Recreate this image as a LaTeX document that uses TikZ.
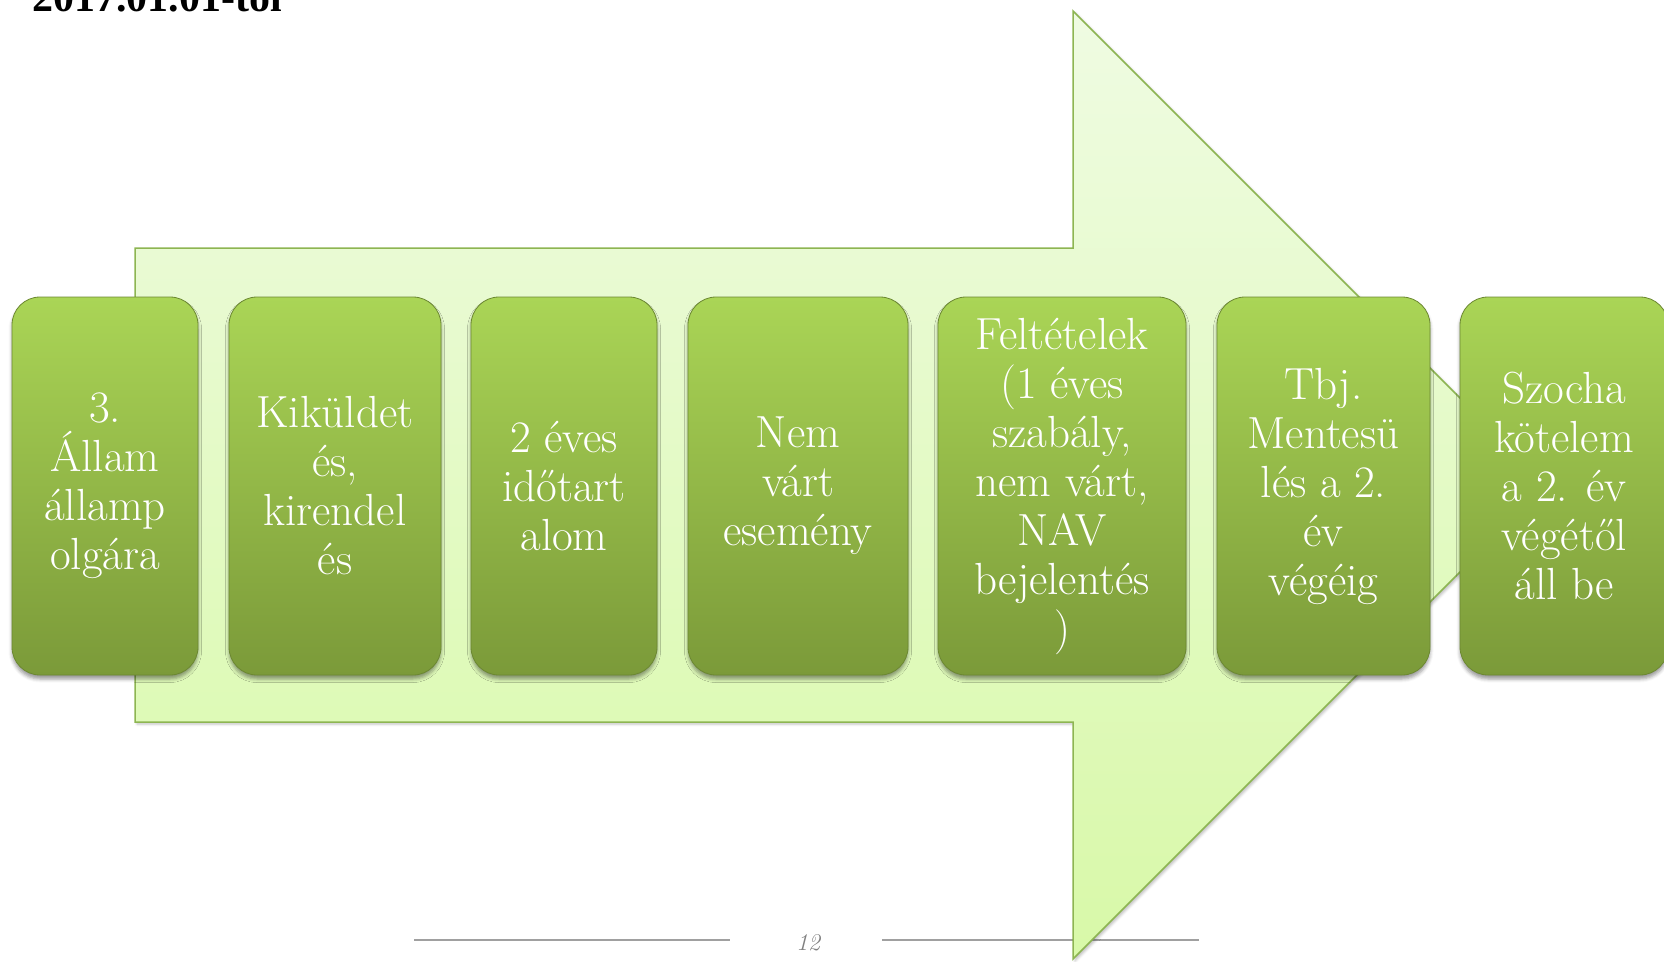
\documentclass[tikz,border=0pt]{standalone}
\usepackage{fontspec}
\usetikzlibrary{shadows.blur}
\newfontfamily\titlefont{Liberation Serif}

\definecolor{arrowtop}{HTML}{EFFBE2}
\definecolor{arrowbot}{HTML}{D8F9A8}
\definecolor{arrowline}{HTML}{8DB552}
\definecolor{boxtop}{HTML}{AAD556}
\definecolor{boxmid}{HTML}{98C248}
\definecolor{boxbot}{HTML}{7B9A39}
\definecolor{boxline}{HTML}{6C8832}
\definecolor{footgray}{HTML}{A0A0A0}

\tikzset{
  stepbox/.style={
    rectangle, rounded corners=28pt,
    minimum height=378pt, inner sep=0pt,
    top color=boxtop, middle color=boxmid, bottom color=boxbot,
    draw=boxline, line width=0.8pt,
    blur shadow={shadow xshift=0pt, shadow yshift=-4pt,
                 shadow blur radius=3.5pt, shadow opacity=40},
    text=white, align=center,
    font=\fontsize{45}{49}\selectfont
  },
  bigarrow/.style={
    top color=arrowtop, bottom color=arrowbot,
    draw=arrowline, line width=1.5pt, line join=miter,
    blur shadow={shadow xshift=2pt, shadow yshift=-2pt,
                 shadow blur radius=2.5pt, shadow opacity=25}
  },
  footline/.style={draw=footgray, line width=1.6pt}
}

\begin{document}
\begin{tikzpicture}[x=1pt, y=-1pt]
  \useasboundingbox (0,0) rectangle (1664,961);

  % footer rules and page number
  \coordinate (fa1) at (414,940);
  \coordinate (fa2) at (730,940);
  \coordinate (fb1) at (882,940);
  \coordinate (fb2) at (1199,940);
  \draw[footline] (fa1) -- (fa2);
  \draw[footline] (fb1) -- (fb2);
  \node[font=\itshape\fontsize{24}{28}\selectfont, text=gray] (pg) at (808,943) {12};

  % block arrow in the background
  \path[bigarrow] (135,248) -- (1073,248) -- (1073,11) -- (1547,485)
     -- (1073,959) -- (1073,722) -- (135,722) -- cycle;

  % the seven steps
  \node[stepbox, minimum width=186pt] (b1) at (105,486)
    {3.\\Állam\\államp\\olgára};
  \node[stepbox, minimum width=212pt] (b2) at (335,486)
    {Kiküldet\\és,\\kirendel\\és};
  \node[stepbox, minimum width=186pt] (b3) at (564,486)
    {2 éves\\időtart\\alom};
  \node[stepbox, minimum width=220pt] (b4) at (798,486)
    {Nem\\várt\\esemény};
  \node[stepbox, minimum width=248pt] (b5) at (1062,486)
    {Feltételek\\(1 éves\\szabály,\\nem várt,\\NAV\\bejelentés\\)};
  \node[stepbox, minimum width=213pt] (b6) at (1323.5,486)
    {Tbj.\\Mentesü\\lés a 2.\\év\\végéig};
  \node[stepbox, minimum width=208pt] (b7) at (1564,486)
    {Szocha\\kötelem\\a 2. év\\végétől\\áll be};

  % heading, partly above the top edge
  \node[anchor=base west, inner sep=0pt,
        font=\titlefont\bfseries\fontsize{42}{48}\selectfont] (title) at (32,12)
    {2017.01.01-től};
\end{tikzpicture}
\end{document}
